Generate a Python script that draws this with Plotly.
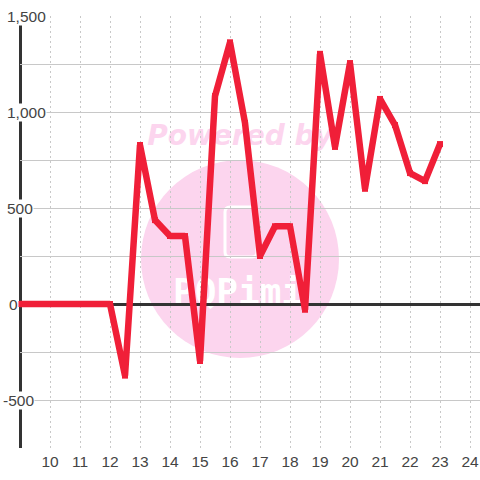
import plotly.graph_objects as go

x_values = [9, 9.5, 10, 10.5, 11, 11.5, 12, 12.5, 13, 13.5, 14, 14.5, 15, 15.5, 16, 16.5,
            17, 17.5, 18, 18.5, 19, 19.5, 20, 20.5, 21, 21.5, 22, 22.5, 23]
y_values = [0, 0, 0, 0, 0, 0, 0, -373, 828, 437, 354, 354, -297, 1083, 1363, 943,
            250, 405, 405, -30, 1303, 818, 1255, 600, 1068, 932, 682, 640, 833]
x_ticks = list(range(10, 25))
y_ticks = [1500, 1000, 500, 0, -500]
y_tick_labels = ["1,500", "1,000", "500", "0", "-500"]
y_label_shift = [-14, -14, -14, -12, -18]

L, T, W, H = 20, 16, 460, 432
PINK = "#fcd5ee"
TEXT = "#444444"
GRID = "#c8c8c8"


def px(v):
    return (v - L) / W


def py(v):
    return 1 - (v - T) / H


fig = go.Figure()
fig.add_trace(go.Scatter(x=x_values, y=y_values, mode="lines+markers", cliponaxis=False,
                         line=dict(color="#f01f38", width=6.5),
                         marker=dict(symbol="square", size=6, color="#f01f38", line=dict(width=0)),
                         hoverinfo="skip"))

icon_l, icon_r, icon_t, icon_b = px(225), px(257), py(207), py(257)
rx, ry = 5 / W, 5 / H
icon_path = (
    f"M {icon_l + rx} {icon_t} L {icon_r - rx} {icon_t} Q {icon_r} {icon_t} {icon_r} {icon_t - ry} "
    f"L {icon_r} {icon_b + ry} Q {icon_r} {icon_b} {icon_r - rx} {icon_b} "
    f"L {icon_l + rx} {icon_b} Q {icon_l} {icon_b} {icon_l} {icon_b + ry} "
    f"L {icon_l} {icon_t - ry} Q {icon_l} {icon_t} {icon_l + rx} {icon_t} Z"
)

shapes = [
    dict(type="circle", xref="paper", yref="paper", layer="below",
         x0=px(141), x1=px(339), y0=py(358), y1=py(160),
         fillcolor=PINK, line=dict(width=0)),
    dict(type="path", xref="paper", yref="paper", layer="below", path=icon_path,
         fillcolor=PINK, line=dict(color="white", width=3)),
    dict(type="rect", xref="paper", yref="paper", layer="below",
         x0=px(140), x1=px(340), y0=py(148), y1=py(118),
         fillcolor="rgba(0,0,0,0)", line=dict(width=0),
         label=dict(text="<b><i>Powered by</i></b>", textposition="middle center",
                    font=dict(family="DejaVu Sans", size=28, color=PINK))),
    dict(type="rect", xref="paper", yref="paper", layer="below",
         x0=px(138), x1=px(338), y0=py(306), y1=py(270),
         fillcolor="rgba(0,0,0,0)", line=dict(width=0),
         label=dict(text="<b>PQPimi</b>", textposition="middle center",
                    font=dict(family="DejaVu Sans Mono", size=36, color="white"))),
    dict(type="line", xref="paper", yref="paper", layer="between",
         x0=px(20.5), x1=px(20.5), y0=0, y1=1,
         line=dict(color="#333333", width=3)),
]

annotations = [
    dict(x=0, xref="paper", y=v, yref="y", text=t, showarrow=False,
         xanchor="left", yanchor="middle", xshift=s, bgcolor="white", borderpad=0,
         font=dict(family="Liberation Sans", size=15.5, color=TEXT))
    for v, t, s in zip(y_ticks, y_tick_labels, y_label_shift)
]

fig.update_layout(
    width=480, height=480, margin=dict(l=L, r=0, t=T, b=480 - T - H),
    paper_bgcolor="white", plot_bgcolor="white", showlegend=False,
    font=dict(family="Liberation Sans", size=15.5, color=TEXT),
    shapes=shapes, annotations=annotations,
    xaxis=dict(range=[9, 9 + W / 30], tickmode="array", tickvals=x_ticks,
               showgrid=True, gridcolor=GRID, griddash="2px,3px", gridwidth=1,
               showline=False, zeroline=False, ticks="", ticklabelstandoff=2,
               tickfont=dict(family="Liberation Sans", size=15.5, color=TEXT)),
    yaxis=dict(range=[-750, 1500], dtick=250, tick0=0, showticklabels=False,
               showgrid=True, gridcolor=GRID, gridwidth=1, showline=False, ticks="",
               zeroline=True, zerolinecolor="#333333", zerolinewidth=3),
)

post = """
var s = document.createElement('style');
s.textContent = 'html,body{margin:0;padding:0;overflow:hidden;background:#fff}' +
  '.js-line{stroke-linejoin:bevel !important}';
document.head.appendChild(s);
"""
fig.write_html("out.html", post_script=post, config={"displayModeBar": False})
